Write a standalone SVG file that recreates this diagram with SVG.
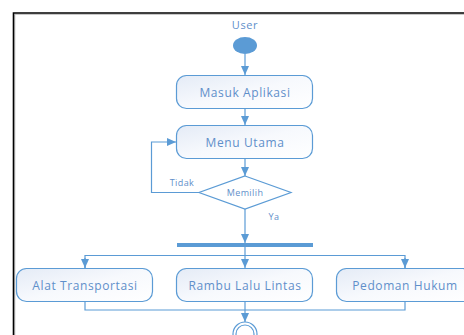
<svg xmlns="http://www.w3.org/2000/svg" width="464" height="335" viewBox="0 0 464 335">
  <defs>
    <linearGradient id="boxFill" x1="0" y1="0" x2="1" y2="1">
      <stop offset="0" stop-color="#e4ebf6"/>
      <stop offset="0.5" stop-color="#f7f9fd"/>
      <stop offset="1" stop-color="#ffffff"/>
    </linearGradient>
    <marker id="arrow" markerWidth="10" markerHeight="8" refX="9" refY="4" orient="auto" markerUnits="userSpaceOnUse">
      <path d="M0,0 L9,4 L0,8 Z" fill="#5b9bd5"/>
    </marker>
  </defs>
  <style>
    .frame { fill: none; stroke: #000; stroke-width: 1.6; }
    .frameShadow { fill: none; stroke: #bbb; stroke-width: 1; }
    .box { fill: url(#boxFill); stroke: #5b9bd5; stroke-width: 1.2; }
    .lbl { font-family: "Open Sans", "Liberation Sans", sans-serif; font-size: 12px; letter-spacing: 0.6px; fill: #5f8fca; text-anchor: middle; }
    .small { font-family: "Open Sans", "Liberation Sans", sans-serif; font-size: 9px; letter-spacing: 0.4px; fill: #5f8fca; text-anchor: middle; }
    .edge { fill: none; stroke: #5b9bd5; stroke-width: 1.2; }
  </style>

  <rect width="464" height="335" fill="#ffffff"/>

  <!-- outer frame -->
  <path class="frameShadow" d="M14.8,340 V14.3 H470"/>
  <path class="frame" d="M13.5,340 V13 H470"/>

  <!-- start -->
  <g id="start">
    <text class="lbl" x="245" y="29" style="font-size:11px">User</text>
    <ellipse cx="245" cy="45.5" rx="12" ry="8.5" fill="#5b9bd5"/>
  </g>

  <g id="masuk">
    <rect class="box" x="176.5" y="75.5" width="136" height="33" rx="10"/>
    <text class="lbl" x="245" y="97">Masuk Aplikasi</text>
  </g>

  <g id="menu">
    <rect class="box" x="176.5" y="125.5" width="136" height="33" rx="10"/>
    <text class="lbl" x="245" y="146.5">Menu Utama</text>
  </g>

  <g id="decision">
    <polygon points="245,176 291,192.5 245,209 199,192.5" fill="#ffffff" stroke="#5b9bd5" stroke-width="1.2"/>
    <text class="small" x="245" y="196">Memilih</text>
  </g>

  <g id="fork">
    <rect x="177" y="243" width="136" height="4" fill="#5b9bd5"/>
  </g>

  <g id="alat">
    <rect class="box" x="16.5" y="268.5" width="136" height="33" rx="10"/>
    <text class="lbl" x="85" y="289.5">Alat Transportasi</text>
  </g>

  <g id="rambu">
    <rect class="box" x="176.5" y="268.5" width="136" height="33" rx="10"/>
    <text class="lbl" x="245" y="289.5">Rambu Lalu Lintas</text>
  </g>

  <g id="pedoman">
    <rect class="box" x="336.5" y="268.5" width="136" height="33" rx="10"/>
    <text class="lbl" x="405" y="289.5">Pedoman Hukum</text>
  </g>

  <g id="end">
    <circle cx="245" cy="334" r="12" fill="#ffffff" stroke="#5b9bd5" stroke-width="1.2"/>
    <circle cx="245" cy="334" r="9" fill="none" stroke="#5b9bd5" stroke-width="1.2"/>
  </g>

  <g id="connectors">
    <path class="edge" d="M245,54 V75" marker-end="url(#arrow)"/>
    <path class="edge" d="M245,109 V125" marker-end="url(#arrow)"/>
    <path class="edge" d="M245,159 V176" marker-end="url(#arrow)"/>
    <path class="edge" d="M199,192.5 H151.5 V142 H176" marker-end="url(#arrow)"/>
    <text class="small" x="182" y="186">Tidak</text>
    <path class="edge" d="M245,209 V243" marker-end="url(#arrow)"/>
    <text class="small" x="274" y="220">Ya</text>
    <path class="edge" d="M245,247 V268" marker-end="url(#arrow)"/>
    <path class="edge" d="M85,268 V255.5 H405 V268"/>
    <path class="edge" d="M85,258 V268" marker-end="url(#arrow)"/>
    <path class="edge" d="M405,258 V268" marker-end="url(#arrow)"/>
    <path class="edge" d="M85,302 V310 H405 V302"/>
    <path class="edge" d="M245,302 V322" marker-end="url(#arrow)"/>
  </g>
</svg>
